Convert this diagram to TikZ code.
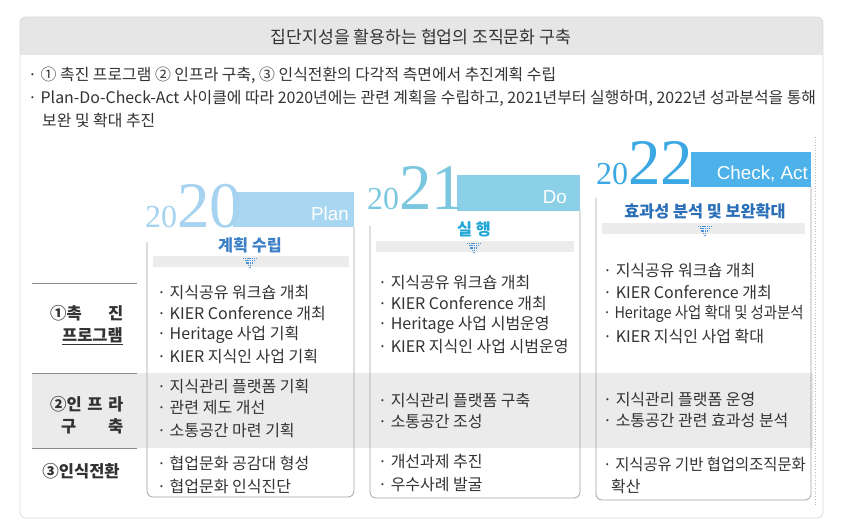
\documentclass[tikz,border=0pt]{standalone}
\usepackage{fontspec}
\setmainfont{Noto Sans CJK KR}
\newfontfamily\yearfont{Liberation Serif}
\newfontfamily\bandfont{Liberation Sans}
\definecolor{frameline}{HTML}{DADADA}
\definecolor{headfill}{HTML}{E6E6E6}
\definecolor{rowgray}{HTML}{EBEBEB}
\definecolor{boxline}{HTML}{A3A3A3}
\definecolor{lblline}{HTML}{8A8A8A}
\definecolor{txt}{HTML}{333333}
\definecolor{stripgray}{HTML}{ECECEC}
\definecolor{arrowblue}{HTML}{4A90D6}
\definecolor{yearA}{HTML}{A6D3EF}
\definecolor{bandA}{HTML}{A9D6F1}
\definecolor{headA}{HTML}{3B80C6}
\definecolor{yearB}{HTML}{7CC7E0}
\definecolor{bandB}{HTML}{8BD0E6}
\definecolor{headB}{HTML}{1FA6D4}
\definecolor{yearC}{HTML}{3BA8E3}
\definecolor{bandC}{HTML}{4DB2EA}
\definecolor{headC}{HTML}{2A6FB8}
\tikzset{
  item/.style={anchor=west, inner sep=0pt, font=\fontsize{16}{19}\selectfont, text=txt},
  topline/.style={anchor=west, inner sep=0pt, font=\fontsize{15.9}{19}\selectfont, text=txt},
  lbl/.style={inner sep=0pt, font=\bfseries\fontsize{16.5}{19}\selectfont, text=txt},
  yearnode/.style={anchor=base west, inner sep=0pt, font=\yearfont},
  bandtext/.style={anchor=east, inner sep=0pt, text=white, font=\bandfont\fontsize{18.8}{22}\selectfont},
  heading/.style={inner sep=0pt, font=\bfseries\fontsize{16.3}{19}\selectfont},
  colbox/.style={draw=boxline, line width=0.8pt, rounded corners=6pt},
  lblrule/.style={draw=lblline, line width=0.8pt},
  dotrow/.style={draw=arrowblue, line width=1.2pt, dash pattern=on 1.1pt off 0.7pt}
}
\newcommand{\dotarrow}[2]{%
  \draw[dotrow] (#1-7,#2-4.5) -- (#1+7,#2-4.5);
  \draw[dotrow] (#1-5.4,#2-2.2) -- (#1+5.4,#2-2.2);
  \draw[dotrow] (#1-3.6,#2) -- (#1+3.6,#2);
  \draw[dotrow] (#1-1.8,#2+2.2) -- (#1+1.8,#2+2.2);
  \fill[arrowblue] (#1,#2+4.5) circle (0.8);
}
\begin{document}
\begin{tikzpicture}[x=1pt,y=-1pt]
\useasboundingbox (0,0) rectangle (842,529);
% outer frame
\fill[white, rounded corners=6pt] (20,17) rectangle (823,518);
\begin{scope}
  \clip[rounded corners=6pt] (20,17) rectangle (823,518);
  \fill[headfill] (20,17) rectangle (823,55);
\end{scope}
\draw[frameline, line width=0.8pt, rounded corners=6pt] (20,17) rectangle (823,518);
\node[inner sep=0pt, font=\fontsize{17.2}{20}\selectfont, text=txt] (title) at (421,37) {집단지성을 활용하는 협업의 조직문화 구축};

% top bullets
\node[topline] (b1) at (28,75) {· ① 촉진 프로그램 ② 인프라 구축, ③ 인식전환의 다각적 측면에서 추진계획 수립};
\node[topline] (b2) at (28,98) {· Plan-Do-Check-Act 사이클에 따라 2020년에는 관련 계획을 수립하고, 2021년부터 실행하며, 2022년 성과분석을 통해};
\node[topline] (b3) at (42,120) {보완 및 확대 추진};

% gray row band
\fill[rowgray] (32,373) rectangle (813,448);
\draw[lblrule] (32,283) -- (137,283);
\draw[lblrule] (32,373) -- (137,373);
\draw[lblrule] (32,448) -- (137,448);

% dotted right line
\draw[gray!55, dotted, line width=0.7pt] (815,137) -- (815,505);

% ---------- 2020 ----------
\fill[bandA] (233,192) rectangle (354,227);
\node[yearnode, text=yearA] (y2020) at (145,227) {\fontsize{32}{32}\selectfont 20\fontsize{65}{65}\selectfont 20};
\node[bandtext] (plan) at (349,214) {Plan};
\draw[colbox] (147,242) -- (147,497) -- (354,497) -- (354,227);
\node[heading, text=headA] (h2020) at (250,245) {계획 수립};
\fill[stripgray] (153,256) rectangle (349,267);
\dotarrow{250}{263}

% ---------- 2021 ----------
\fill[bandB] (457,175) rectangle (580,211);
\node[yearnode, text=yearB] (y2021) at (367,210) {\fontsize{32}{32}\selectfont 20\fontsize{65}{65}\selectfont 21};
\node[bandtext] (do) at (567,197) {Do};
\draw[colbox] (370,226) -- (370,498) -- (580,498) -- (580,211);
\node[heading, text=headB] (h2021) at (474,229) {실 행};
\fill[stripgray] (376,241) rectangle (574,252);
\dotarrow{474}{248}

% ---------- 2022 ----------
\fill[bandC] (691,152) rectangle (811,187);
\node[yearnode, text=yearC] (y2022) at (596,185) {\fontsize{32}{32}\selectfont 20\fontsize{65}{65}\selectfont 22};
\node[bandtext] (checkact) at (808,174) {Check, Act};
\draw[colbox] (596,198) -- (596,500) -- (811,500) -- (811,187);
\node[heading, text=headC] (h2022) at (705,211) {효과성 분석 및 보완확대};
\fill[stripgray] (602,223) rectangle (805,234);
\dotarrow{705}{231}

% row labels
\node[lbl, anchor=west] (l1a) at (50,313) {\hbox to 73pt{①촉\hfill 진}};
\node[lbl, anchor=east] (l1b) at (123,336) {\underline{프로그램}};
\node[lbl, anchor=west] (l2a) at (50,404) {\hbox to 73pt{②인\hfill 프\hfill 라}};
\node[lbl, anchor=west] (l2b) at (61,426) {\hbox to 62pt{구\hfill 축}};
\node[lbl] (l3) at (81,471) {③인식전환};

% column 1 items
\node[item] (a11) at (157,293) {· 지식공유 워크숍 개최};
\node[item] (a12) at (157,314) {· KIER Conference 개최};
\node[item] (a13) at (157,335) {· Heritage 사업 기획};
\node[item] (a14) at (157,356) {· KIER 지식인 사업 기획};
\node[item] (a21) at (157,386) {· 지식관리 플랫폼 기획};
\node[item] (a22) at (157,408) {· 관련 제도 개선};
\node[item] (a23) at (157,430) {· 소통공간 마련 기획};
\node[item] (a31) at (157,463) {· 협업문화 공감대 형성};
\node[item] (a32) at (157,486) {· 협업문화 인식진단};

% column 2 items
\node[item] (c11) at (378,283) {· 지식공유 워크숍 개최};
\node[item] (c12) at (378,304) {· KIER Conference 개최};
\node[item] (c13) at (378,325) {· Heritage 사업 시범운영};
\node[item] (c14) at (378,347) {· KIER 지식인 사업 시범운영};
\node[item] (c21) at (378,400) {· 지식관리 플랫폼 구축};
\node[item] (c22) at (378,421) {· 소통공간 조성};
\node[item] (c31) at (378,462) {· 개선과제 추진};
\node[item] (c32) at (378,485) {· 우수사례 발굴};

% column 3 items
\node[item] (e11) at (603,271) {· 지식공유 워크숍 개최};
\node[item] (e12) at (603,293) {· KIER Conference 개최};
\node[item] (e13) at (603,314) {\scalebox{0.9}[1]{· Heritage 사업 확대 및 성과분석}};
\node[item] (e14) at (603,336) {· KIER 지식인 사업 확대};
\node[item] (e21) at (603,400) {· 지식관리 플랫폼 운영};
\node[item] (e22) at (603,421) {· 소통공간 관련 효과성 분석};
\node[item] (e31) at (603,464) {\scalebox{0.96}[1]{· 지식공유 기반 협업의조직문화}};
\node[item] (e32) at (611,486) {확산};
\end{tikzpicture}
\end{document}
